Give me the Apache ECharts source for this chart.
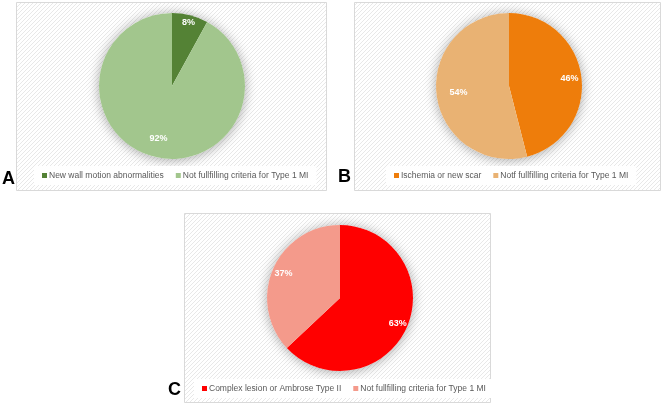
<!DOCTYPE html>
<html><head><meta charset="utf-8">
<script src="https://cdn.jsdelivr.net/npm/echarts@6/dist/echarts.min.js"></script>
<style>html,body{margin:0;padding:0;background:#fff}#c{width:668px;height:405px}</style>
</head><body><div id="c"></div>
<script>
// ---- data ----
const namesA = ['New wall motion abnormalities', 'Not fullfilling criteria for Type 1 MI'];
const valuesA = [8, 92];
const colorsA = ['#548235', '#A2C68D'];

const namesB = ['Ischemia or new scar', 'Notf fullfilling criteria for Type 1 MI'];
const valuesB = [46, 54];
const colorsB = ['#EE7D0B', '#E9B273'];

const namesC = ['Complex lesion or Ambrose Type II', 'Not fullfilling criteria for Type 1 MI'];
const valuesC = [63, 37];
const colorsC = ['#FF0000', '#F49A8B'];

const panelLetters = ['A', 'B', 'C'];

// ---- hatched pattern ----
function makePattern() {
  const cv = document.createElement('canvas');
  cv.width = 4; cv.height = 4;
  const g = cv.getContext('2d');
  g.fillStyle = '#ffffff'; g.fillRect(0, 0, 4, 4);
  g.strokeStyle = '#e8e8e8'; g.lineWidth = 1;
  g.beginPath();
  g.moveTo(0, 4); g.lineTo(4, 0);
  g.moveTo(-1, 1); g.lineTo(1, -1);
  g.moveTo(3, 5); g.lineTo(5, 3);
  g.stroke();
  return { image: cv, repeat: 'repeat' };
}
const pat = makePattern();

const R = 73;
const panels = [
  { names: namesA, values: valuesA, colors: colorsA, center: [172, 86], labelR0: [53, 29],
    box: [16, 2, 310, 188], letter: [2, 179], legend: { left: 34, top: 166 } },
  { names: namesB, values: valuesB, colors: colorsB, center: [509, 86], labelR0: [43, 23],
    box: [354, 2, 306, 188], letter: [338, 177], legend: { left: 386, top: 166 } },
  { names: namesC, values: valuesC, colors: colorsC, center: [340, 298], labelR0: [47, 44],
    box: [184, 213, 306, 189], letter: [168, 390], legend: { left: 194, top: 379 } }
];

const series = [];
const legends = [];
const graphics = [];

panels.forEach((p, pi) => {
  graphics.push({
    type: 'rect', z: -10,
    shape: { x: p.box[0] + 0.5, y: p.box[1] + 0.5, width: p.box[2], height: p.box[3] },
    style: { fill: pat, stroke: '#d9d9d9', lineWidth: 1 }
  });
  graphics.push({
    type: 'text', x: p.letter[0], y: p.letter[1], z: 200,
    style: { text: panelLetters[pi], font: 'bold 18px "Liberation Sans", Arial, sans-serif',
      fill: '#000', textVerticalAlign: 'middle', verticalAlign: 'middle' }
  });
  // shadow disc under the pie
  series.push({
    type: 'pie', silent: true, center: p.center, radius: [0, R],
    data: [{ value: p.values.reduce((a, b) => a + b, 0), name: '__bg' + pi }],
    itemStyle: { color: '#ffffff', shadowBlur: 12, shadowColor: 'rgba(0,0,0,0.35)', shadowOffsetY: 1 },
    label: { show: false }, labelLine: { show: false }, emphasis: { disabled: true },
    animation: false
  });
  series.push({
    type: 'pie', center: p.center, radius: [0, R], startAngle: 90, clockwise: true,
    data: p.names.map((n, i) => ({ name: n, value: p.values[i], itemStyle: { color: p.colors[i] } })),
    label: { show: false }, labelLine: { show: false }, emphasis: { disabled: true },
    itemStyle: { borderWidth: 0 }, animation: false
  });
  p.values.forEach((v, li) => {
    series.push({
      type: 'pie', silent: true, center: p.center, radius: [p.labelR0[li], R], startAngle: 90,
      data: p.names.map((n, i) => ({
        name: n, value: p.values[i], itemStyle: { color: 'rgba(0,0,0,0)' },
        label: { show: i === li }
      })),
      label: { show: true, position: 'inside', formatter: '{c}%', color: '#fff',
        fontWeight: 'bold', fontSize: 9, fontFamily: '"Liberation Sans", Arial, sans-serif' },
      labelLine: { show: false }, emphasis: { disabled: true }, animation: false
    });
  });
  legends.push({
    left: p.legend.left, top: p.legend.top, orient: 'horizontal', z: 5,
    backgroundColor: '#ffffff', padding: [5, 8], itemGap: 12,
    itemWidth: 5, itemHeight: 5, icon: 'rect', selectedMode: false,
    textStyle: { color: '#595959', fontSize: 8.5, fontFamily: '"Liberation Sans", Arial, sans-serif', padding: [0, 0, 0, -3] },
    data: p.names.map((n, i) => ({ name: n, itemStyle: { color: p.colors[i] } }))
  });
});

const chart = echarts.init(document.getElementById('c'), null, { renderer: 'canvas' });
chart.setOption({
  backgroundColor: '#ffffff',
  animation: false,
  graphic: { elements: graphics },
  legend: legends,
  series: series
});
</script></body></html>
